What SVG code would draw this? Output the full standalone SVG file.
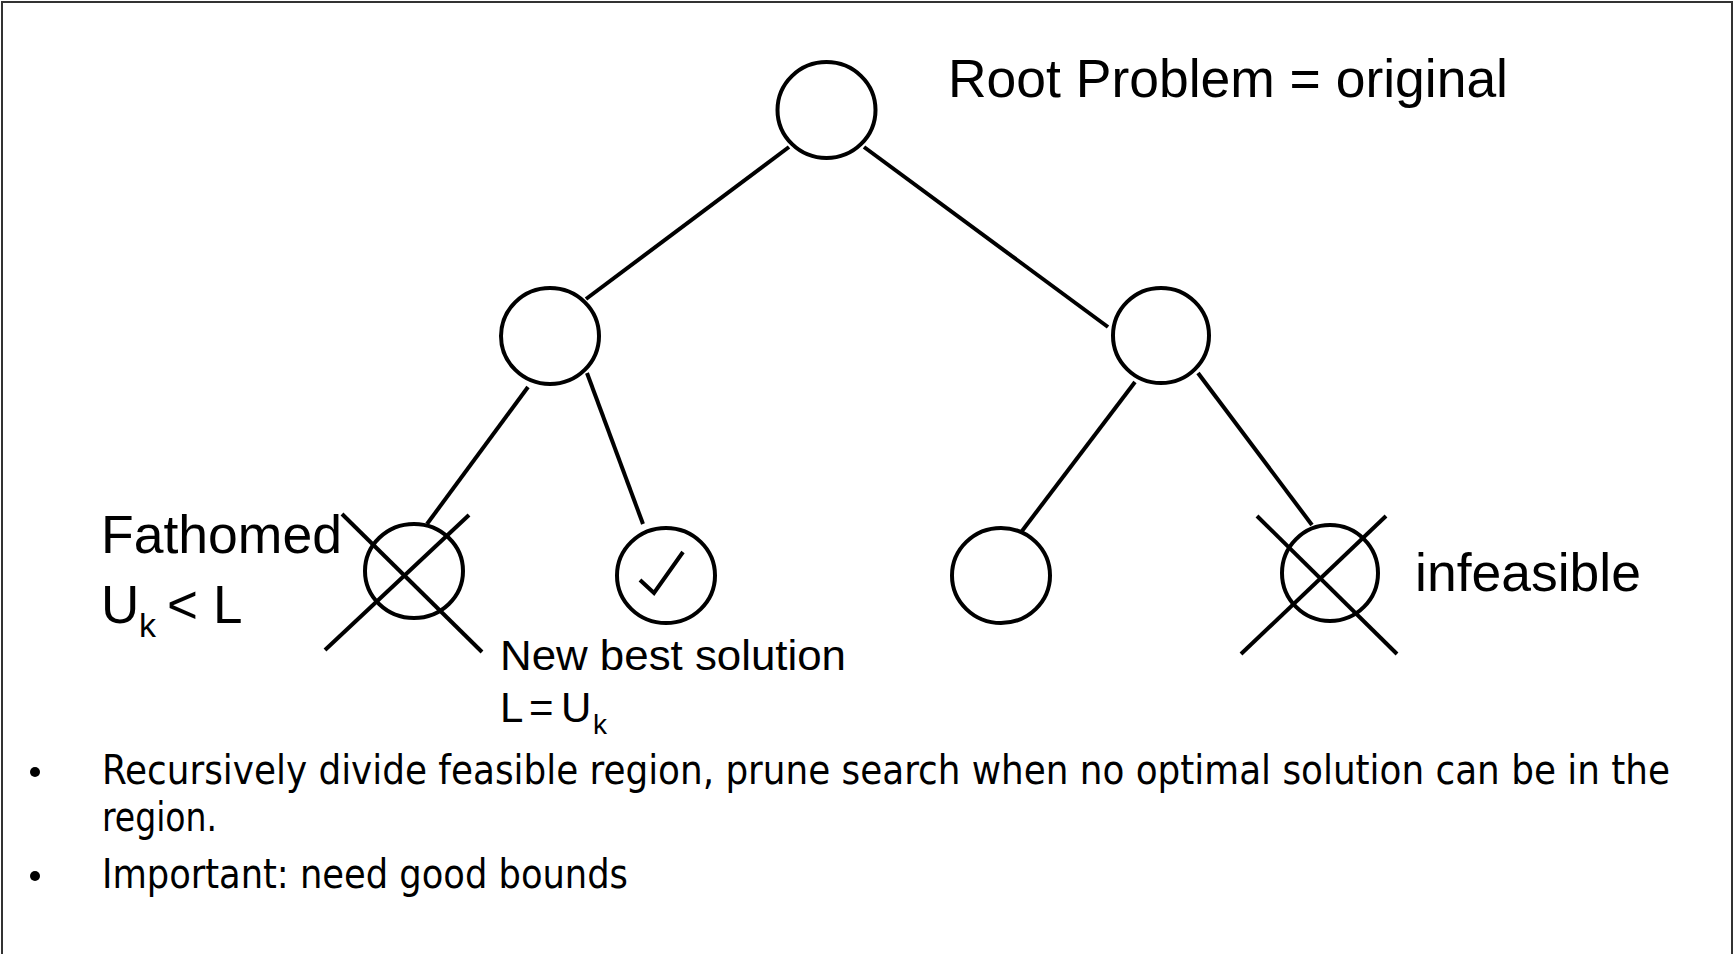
<svg xmlns="http://www.w3.org/2000/svg" width="1734" height="954" viewBox="0 0 1734 954">
  <style>
    .node { fill: #ffffff; stroke: #000000; stroke-width: 4; }
    .edge { stroke: #000000; stroke-width: 4; fill: none; }
    .mark { stroke: #000000; stroke-width: 4; fill: none; }
    .big { font-family: "Liberation Sans", Arial, sans-serif; font-size: 53px; fill: #000000; }
    .mid { font-family: "Liberation Sans", Arial, sans-serif; font-size: 42px; fill: #000000; }
    .sub { font-family: "Liberation Sans", Arial, sans-serif; fill: #000000; }
    .body { font-family: "DejaVu Sans Condensed", "DejaVu Sans", sans-serif; font-size: 40px; fill: #000000; }
  </style>

  <rect x="0" y="0" width="1734" height="954" fill="#ffffff"/>
  <!-- slide frame -->
  <rect x="2" y="2" width="1730" height="960" fill="none" stroke="#333333" stroke-width="2"/>

  <!-- tree edges -->
  <g id="connectors">
    <line class="edge" x1="789" y1="147" x2="586" y2="299"/>
    <line class="edge" x1="864" y1="147" x2="1108" y2="327"/>
    <line class="edge" x1="528" y1="387" x2="427" y2="524"/>
    <line class="edge" x1="587" y1="373" x2="643" y2="524"/>
    <line class="edge" x1="1135" y1="382" x2="1022" y2="531"/>
    <line class="edge" x1="1198" y1="373" x2="1312" y2="525"/>
  </g>

  <g id="root">
    <ellipse class="node" cx="826.5" cy="110" rx="49" ry="48"/>
    <text class="big" x="948" y="97" textLength="560" lengthAdjust="spacingAndGlyphs">Root Problem = original</text>
  </g>

  <g id="left">
    <ellipse class="node" cx="550" cy="336" rx="49" ry="48"/>
  </g>

  <g id="right">
    <ellipse class="node" cx="1161" cy="335.5" rx="48" ry="47.5"/>
  </g>

  <g id="fathomed">
    <ellipse class="node" cx="414" cy="571" rx="49" ry="47"/>
    <line class="mark" x1="342" y1="514" x2="482" y2="652"/>
    <line class="mark" x1="469" y1="515" x2="325" y2="650"/>
    <text class="big" x="101" y="553" textLength="241" lengthAdjust="spacingAndGlyphs">Fathomed</text>
    <text class="big" x="101" y="623">U</text>
    <text class="sub" x="139" y="637" font-size="34">k</text>
    <text class="big" x="167" y="623">&lt;</text>
    <text class="big" x="213" y="623">L</text>
  </g>

  <g id="best">
    <ellipse class="node" cx="666" cy="575.5" rx="49" ry="47.5"/>
    <polyline class="mark" points="640,580 654,593 683,552"/>
    <text class="mid" x="500" y="670" textLength="346" lengthAdjust="spacingAndGlyphs">New best solution</text>
    <text class="mid" x="500" y="722">L</text>
    <text class="mid" x="529" y="722">=</text>
    <text class="mid" x="561" y="722">U</text>
    <text class="sub" x="593" y="734" font-size="28">k</text>
  </g>

  <g id="open">
    <ellipse class="node" cx="1001" cy="575.5" rx="49" ry="47.5"/>
  </g>

  <g id="infeasible">
    <ellipse class="node" cx="1330" cy="573" rx="48" ry="48"/>
    <line class="mark" x1="1257" y1="516" x2="1397" y2="654"/>
    <line class="mark" x1="1386" y1="516" x2="1241" y2="654"/>
    <text class="big" x="1415" y="591" textLength="226" lengthAdjust="spacingAndGlyphs">infeasible</text>
  </g>

  <!-- bullet notes -->
  <g id="notes">
    <circle cx="35" cy="772" r="5" fill="#000000"/>
    <text class="body" x="102" y="784" textLength="1568" lengthAdjust="spacingAndGlyphs">Recursively divide feasible region, prune search when no optimal solution can be in the</text>
    <text class="body" x="102" y="831" textLength="115" lengthAdjust="spacingAndGlyphs">region.</text>
    <circle cx="35" cy="876" r="5" fill="#000000"/>
    <text class="body" x="102" y="888" textLength="526" lengthAdjust="spacingAndGlyphs">Important: need good bounds</text>
  </g>
</svg>
